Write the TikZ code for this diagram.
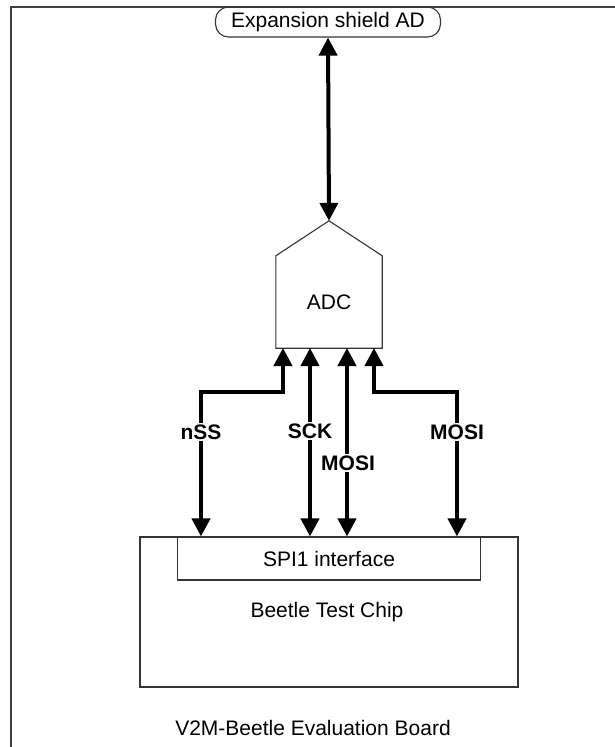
\documentclass[tikz,border=0pt]{standalone}
\usepackage{fontspec}
\setmainfont{Liberation Sans}
\usetikzlibrary{arrows.meta,positioning,calc}

\begin{document}
\begin{tikzpicture}[
  x=1pt, y=-1pt,
  font=\fontsize{21}{24}\selectfont, >={Triangle[length=18pt, width=18pt]},
  frame/.style={line width=1.5pt, draw=black!75},
  blk/.style={draw=black!80, line width=1.1pt, inner sep=0pt},
  shield/.style={blk, rounded corners=13pt, minimum width=225pt, minimum height=30pt},
  bus/.style={<->, line width=4pt, draw=black},
  lbl/.style={fill=white, inner sep=1.5pt, font=\fontsize{21}{24}\selectfont\bfseries},
]
\useasboundingbox (0,0) rectangle (615,747);
% ---------------- board frame (cut at right and bottom) ----------------
\draw[frame] (11,760) -- (11,7) -- (630,7);
\node (brd) at (313,728) {V2M-Beetle Evaluation Board};

% ---------------- expansion shield + ADC ----------------
\node[shield] (exp) at (328,22) {Expansion shield AD};
\node[inner sep=0pt, minimum width=106pt, minimum height=92pt] (adc) at (329,302) {ADC};
\coordinate (apex) at ($(adc.north)+(0,-35)$);
\draw[blk] (adc.south west) -- (adc.north west) -- (apex)
           -- (adc.north east) -- (adc.south east) -- cycle;
\draw[bus] (exp.south) -- (apex);

% ---------------- chip with SPI block ----------------
\node[blk, minimum width=378pt, minimum height=150pt] (chip) at (329,612) {};
\node (chipt) at (327,612) {Beetle Test Chip};
\node[blk, minimum width=303pt, minimum height=43pt, anchor=north]
     (spi) at (chip.north) {SPI1 interface};

% ports on ADC bottom and on the chip top
\coordinate (a1) at (283,348);
\coordinate (a2) at (310,348);
\coordinate (a3) at (347,348);
\coordinate (a4) at (374,348);
\coordinate (k1) at (201,392);
\coordinate (k4) at (457,392);
\coordinate (s1) at (k1 |- chip.north);
\coordinate (s2) at (a2 |- chip.north);
\coordinate (s3) at (a3 |- chip.north);
\coordinate (s4) at (k4 |- chip.north);

% ---------------- SPI lines ----------------
\draw[bus] (a1) |- (k1) -- (s1);
\draw[bus] (a2) -- (s2);
\draw[bus] (a3) -- (s3);
\draw[bus] (a4) |- (k4) -- (s4);
\node[lbl] (lnss)  at (201,432) {nSS};
\node[lbl] (lsck)  at (310,431) {SCK};
\node[lbl] (lmosa) at (348,463) {MOSI};
\node[lbl] (lmosb) at (457,432) {MOSI};
\end{tikzpicture}
\end{document}
